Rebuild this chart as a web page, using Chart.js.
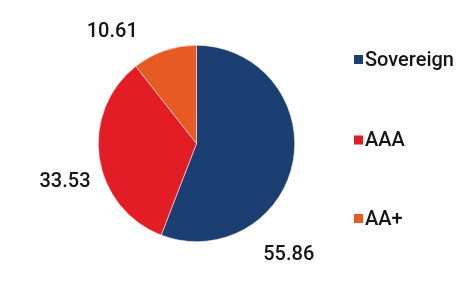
<!DOCTYPE html>
<html lang="en">
<head>
  <meta charset="UTF-8">
  <title>Rating split</title>
  <script src="https://cdn.jsdelivr.net/npm/chart.js"></script>
  <style>
    html, body { margin: 0; padding: 0; background: #fff; }
    #wrap { width: 474px; height: 285px; }
  </style>
</head>
<body>
  <div id="wrap"><canvas id="pieChart"></canvas></div>

  <script>
    const categories = ["Sovereign", "AAA", "AA+"];
    const shares = [55.86, 33.53, 10.61];
    const sliceColors = ["#1b3e73", "#e21d25", "#e75a24"];

    // where each value label sits: angle (deg, canvas convention) and distance from centre
    const labelSpots = [[50.5, 145], [163.7, 137], [233, 140]];

    const outsideText = {
      id: 'outsideText',
      afterDraw(chart) {
        const ctx = chart.ctx;
        const meta = chart.getDatasetMeta(0);
        ctx.save();
        ctx.font = '500 20px Roboto';
        ctx.fillStyle = '#151515';
        ctx.textAlign = 'center';
        ctx.textBaseline = 'middle';
        meta.data.forEach((arc, i) => {
          const a = labelSpots[i][0] * Math.PI / 180;
          const d = labelSpots[i][1];
          ctx.fillText(shares[i].toFixed(2), arc.x + Math.cos(a) * d, arc.y + Math.sin(a) * d);
        });

        // legend on the right
        ctx.font = '500 20px Roboto';
        ctx.textAlign = 'left';
        const rowY = [59.5, 140, 218.5];
        categories.forEach((c, i) => {
          ctx.fillStyle = sliceColors[i];
          ctx.fillRect(354, rowY[i] - 4.5, 9, 9);
          ctx.fillStyle = '#151515';
          ctx.fillText(c, 365, rowY[i] + 1);
        });
        ctx.restore();
      }
    };

    new Chart(document.getElementById('pieChart'), {
      type: 'pie',
      data: {
        labels: categories,
        datasets: [{
          data: shares,
          backgroundColor: sliceColors,
          borderColor: '#f4e9e6',
          borderWidth: 0.6
        }]
      },
      options: {
        responsive: true,
        maintainAspectRatio: false,
        animation: false,
        layout: { padding: { left: 98, right: 179, top: 45, bottom: 43 } },
        plugins: {
          legend: { display: false },
          tooltip: { enabled: false }
        }
      },
      plugins: [outsideText]
    });
  </script>
</body>
</html>
